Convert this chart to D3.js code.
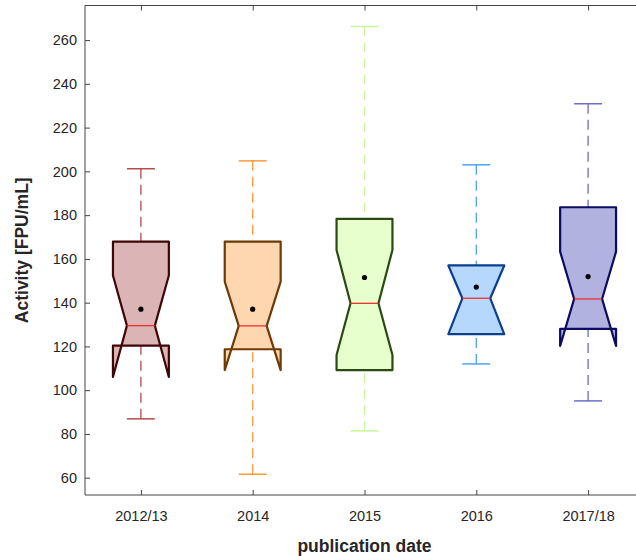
<!DOCTYPE html>
<html>
<head>
<meta charset="utf-8">
<script src="https://cdn.jsdelivr.net/npm/d3@7"></script>
<style>
  html, body { margin: 0; padding: 0; background: #fff; }
  svg { display: block; font-family: "Liberation Sans", Arial, Helvetica, sans-serif; }
</style>
</head>
<body>
<svg id="chart" width="636" height="556"></svg>
<script>
// Activity per publication-date group: notched box plot summaries
const categories = ["2012/13", "2014", "2015", "2016", "2017/18"];
const whiskerHi = [201.2, 204.8, 266.2, 203.0, 230.9];
const q3        = [167.9, 167.9, 178.3, 157.0, 183.6];
const notchHi   = [152.4, 149.6, 164.1, 157.0, 163.3];
const medians   = [129.5, 129.4, 139.7, 142.0, 141.7];
const notchLo   = [106.0, 109.2, 116.1, 125.6, 120.2];
const q1        = [120.4, 118.7, 109.2, 125.6, 128.0];
const whiskerLo = [ 86.9,  61.6,  81.4, 112.0,  95.1];
const means     = [137.0, 137.0, 151.5, 147.1, 151.9];
const yTicks = [60, 80, 100, 120, 140, 160, 180, 200, 220, 240, 260];

// group colours: whisker line, box edge, box fill
const lineColors = ["#b84a4a", "#ff9a3c", "#c6f79a", "#4fa3f7", "#6b6bc9"];
const edgeColors = ["#3f0606", "#6e3a05", "#2b4a12", "#0b3f8f", "#0c0c62"];
const fillColors = ["#dbb4b6", "#fed7b0", "#e6ffcc", "#b5d8fc", "#b2b2e0"];

const svg = d3.select("#chart");
const plotLeft = 85, plotRight = 644, plotTop = 5.5, plotBottom = 495;

const x = d3.scaleLinear().domain([0.5, categories.length + 0.5]).range([plotLeft, plotRight]);
const y = d3.scaleLinear().domain([52.1, 275.8]).range([plotBottom, plotTop]);

const axisColor = "#444";
const textColor = "#262626";
const tickFont = 14.5;

// axes frame (left, bottom, top)
const frame = svg.append("g");
frame.append("line").attr("x1", plotLeft).attr("x2", plotLeft).attr("y1", plotTop).attr("y2", plotBottom)
  .attr("stroke", axisColor).attr("stroke-width", 1);
frame.append("line").attr("x1", plotLeft).attr("x2", plotRight).attr("y1", plotBottom).attr("y2", plotBottom)
  .attr("stroke", axisColor).attr("stroke-width", 1);
frame.append("line").attr("x1", plotLeft).attr("x2", plotRight).attr("y1", plotTop).attr("y2", plotTop)
  .attr("stroke", axisColor).attr("stroke-width", 1);

// y axis: inward ticks
const yAxis = svg.append("g").attr("transform", `translate(${plotLeft},0)`)
  .call(d3.axisLeft(y).tickValues(yTicks).tickSize(-5).tickPadding(8));
yAxis.select(".domain").remove();
yAxis.selectAll(".tick line").attr("stroke", axisColor);
yAxis.selectAll(".tick text").attr("fill", textColor).attr("font-size", tickFont)
  .attr("font-family", "Liberation Sans, Arial, sans-serif");

// x axis: inward ticks at bottom and top
const xPos = categories.map((c, i) => i + 1);
const xAxis = svg.append("g").attr("transform", `translate(0,${plotBottom})`)
  .call(d3.axisBottom(x).tickValues(xPos).tickFormat((d, i) => categories[i]).tickSize(-5).tickPadding(16));
xAxis.select(".domain").remove();
xAxis.selectAll(".tick line").attr("stroke", axisColor);
xAxis.selectAll(".tick text").attr("fill", textColor).attr("font-size", tickFont)
  .attr("font-family", "Liberation Sans, Arial, sans-serif");

const xTop = svg.append("g").attr("transform", `translate(0,${plotTop})`)
  .call(d3.axisTop(x).tickValues(xPos).tickFormat("").tickSize(-5));
xTop.select(".domain").remove();
xTop.selectAll(".tick line").attr("stroke", axisColor);

// axis titles
svg.append("text")
  .attr("x", (plotLeft + plotRight) / 2).attr("y", 552)
  .attr("text-anchor", "middle").attr("font-weight", "bold").attr("font-size", 17.5)
  .attr("fill", textColor).text("publication date");

svg.append("text")
  .attr("transform", `translate(28,${(plotTop + plotBottom) / 2}) rotate(-90)`)
  .attr("text-anchor", "middle").attr("font-weight", "bold").attr("font-size", 17.5)
  .attr("fill", textColor).text("Activity [FPU/mL]");

// boxes
const halfW = 0.25, notchW = 0.125, capW = 0.125;
const groups = svg.append("g");

categories.forEach((c, i) => {
  const cx = i + 1;
  const g = groups.append("g");
  const L = x(cx - halfW), R = x(cx + halfW);
  const Li = x(cx - notchW), Ri = x(cx + notchW);

  // whiskers (dashed) and caps
  g.append("line").attr("x1", x(cx)).attr("x2", x(cx))
    .attr("y1", y(whiskerHi[i])).attr("y2", y(q3[i]))
    .attr("stroke", lineColors[i]).attr("stroke-width", 1.3).attr("stroke-dasharray", "10,6");
  g.append("line").attr("x1", x(cx)).attr("x2", x(cx))
    .attr("y1", y(whiskerLo[i])).attr("y2", y(q1[i]))
    .attr("stroke", lineColors[i]).attr("stroke-width", 1.3).attr("stroke-dasharray", "10,6");
  [whiskerHi[i], whiskerLo[i]].forEach(v => {
    g.append("line").attr("x1", x(cx - capW)).attr("x2", x(cx + capW))
      .attr("y1", y(v)).attr("y2", y(v))
      .attr("stroke", lineColors[i]).attr("stroke-width", 1.5);
  });

  // notched box outline
  const pts = [
    [L, y(q1[i])], [L, y(notchLo[i])], [Li, y(medians[i])], [L, y(notchHi[i])], [L, y(q3[i])],
    [R, y(q3[i])], [R, y(notchHi[i])], [Ri, y(medians[i])], [R, y(notchLo[i])], [R, y(q1[i])]
  ];
  g.append("path")
    .attr("d", d3.line()(pts) + "Z")
    .attr("fill", fillColors[i])
    .attr("stroke", edgeColors[i]).attr("stroke-width", 2.2)
    .attr("stroke-linejoin", "round");

  // median
  g.append("line").attr("x1", Li).attr("x2", Ri)
    .attr("y1", y(medians[i])).attr("y2", y(medians[i]))
    .attr("stroke", "#ee2f2f").attr("stroke-width", 1.3);

  // mean
  g.append("circle").attr("cx", x(cx)).attr("cy", y(means[i])).attr("r", 2.6).attr("fill", "#000");
});
</script>
</body>
</html>
